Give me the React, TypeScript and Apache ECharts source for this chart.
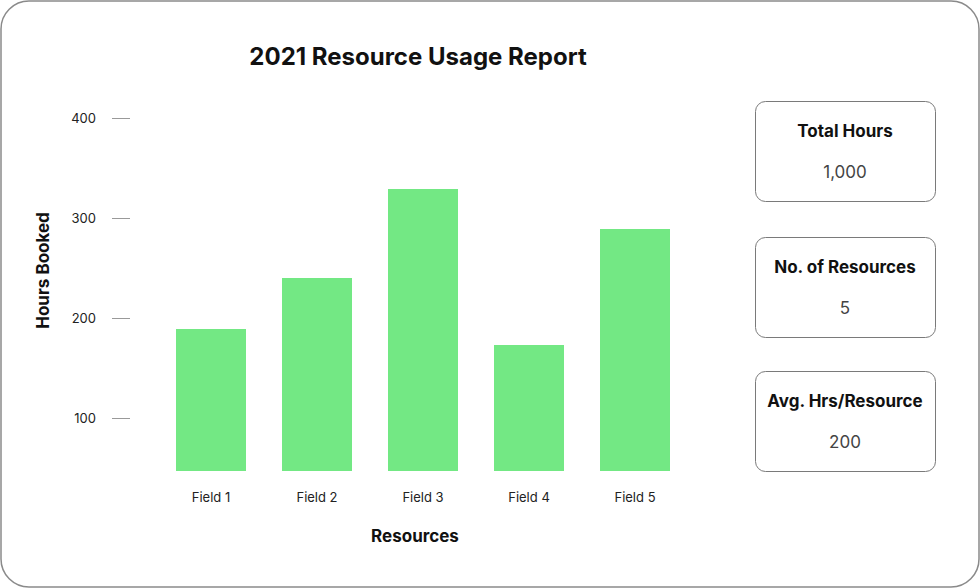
import React, { useEffect, useRef } from "react";
import * as echarts from "echarts";

const categories = ["Field 1", "Field 2", "Field 3", "Field 4", "Field 5"];
const hoursBooked = [189, 240, 329, 173, 289];
const yTicks = [100, 200, 300, 400];
const cardTitles = ["Total Hours", "No. of Resources", "Avg. Hrs/Resource"];
const cardValues = ["1,000", "5", "200"];

const FONT = "Inter, 'Noto Sans', sans-serif";

export default function App() {
  const ref = useRef<HTMLDivElement>(null);
  useEffect(() => {
    if (!ref.current) return;
    const chart = echarts.init(ref.current, null, { renderer: "svg" });
    const cardTops = [101, 237, 371];
    const cards: any[] = [];
    cardTitles.forEach((t, i) => {
      const top = cardTops[i];
      cards.push({
        type: "rect",
        shape: { x: 755.5, y: top + 0.5, width: 180, height: 100, r: 10 },
        style: { fill: "#fff", stroke: "#7a7a7a", lineWidth: 1 },
        z: 1,
      });
      cards.push({
        type: "text",
        x: 845,
        y: top + 30,
        style: {
          text: t,
          fill: "#111",
          font: `700 17px ${FONT}`,
          align: "center",
          verticalAlign: "middle",
        },
        z: 2,
      });
      cards.push({
        type: "text",
        x: 845,
        y: top + 71,
        style: {
          text: cardValues[i],
          fill: "#444",
          font: `400 17px ${FONT}`,
          align: "center",
          verticalAlign: "middle",
        },
        z: 2,
      });
    });
    chart.setOption({
      animation: false,
      backgroundColor: "#fff",
      title: {
        text: "2021 Resource Usage Report",
        left: 418,
        top: 56,
        textAlign: "center",
        textVerticalAlign: "middle",
        padding: 0,
        textStyle: { fontFamily: FONT, fontSize: 24, fontWeight: 700, color: "#111" },
      },
      grid: { left: 158, right: 292, top: 118, bottom: 117 },
      xAxis: {
        type: "category",
        data: categories,
        axisLine: { show: false },
        axisTick: { show: false },
        axisLabel: { margin: 19, fontFamily: FONT, fontSize: 13, color: "#222" },
        name: "Resources",
        nameLocation: "middle",
        nameGap: 56,
        nameTextStyle: {
          fontFamily: FONT,
          fontSize: 17,
          fontWeight: 700,
          color: "#111",
          padding: [0, 16, 0, 0],
        },
      },
      yAxis: {
        type: "value",
        min: 47,
        max: 400,
        offset: 28,
        splitLine: { show: false },
        axisLine: { show: false },
        axisTick: {
          show: true,
          length: 18,
          customValues: yTicks,
          lineStyle: { color: "#999", width: 1 },
        },
        axisLabel: {
          margin: 34,
          customValues: yTicks,
          fontFamily: FONT,
          fontSize: 13,
          color: "#222",
        },
        name: "Hours Booked",
        nameLocation: "middle",
        nameRotate: 90,
        nameGap: 79,
        nameTextStyle: {
          fontFamily: FONT,
          fontSize: 17,
          fontWeight: 700,
          color: "#111",
          padding: [0, 0, 0, 48],
        },
      },
      series: [
        {
          type: "bar",
          data: hoursBooked,
          barWidth: 70,
          itemStyle: { color: "#73e884" },
        },
      ],
      graphic: [
        {
          type: "rect",
          shape: { x: 1, y: 1, width: 978, height: 586, r: 28 },
          style: { fill: "none", stroke: "#8a8a8a", lineWidth: 1.5 },
          z: 0,
        },
        ...cards,
      ],
    });
    return () => chart.dispose();
  }, []);
  return (
    <div
      ref={ref}
      style={{ position: "fixed", left: 0, top: 0, width: 980, height: 588 }}
    />
  );
}
